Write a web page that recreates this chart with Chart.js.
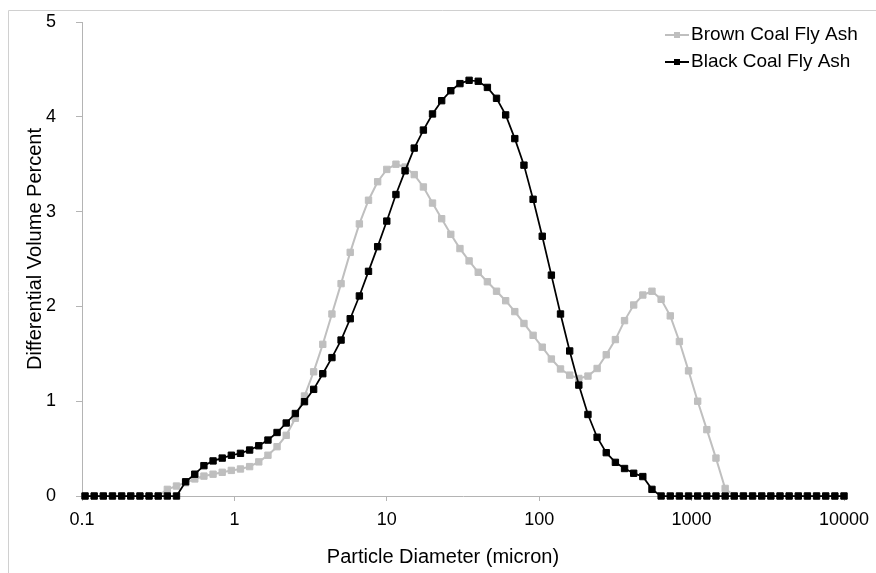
<!DOCTYPE html>
<html>
<head>
<meta charset="utf-8">
<script src="https://cdn.jsdelivr.net/npm/chart.js@4.4.0/dist/chart.umd.min.js"></script>
<style>
  html, body { margin: 0; padding: 0; background: #fff; }
  #wrap { position: relative; width: 876px; height: 573px; }
</style>
</head>
<body>
<div id="wrap"><canvas id="psd" width="876" height="573"></canvas></div>
<script>
// particle size classes (micron)
const diameters = [
  0.1047, 0.1202, 0.1380, 0.1585, 0.1820, 0.2089, 0.2399, 0.2754, 0.3162, 0.3631,
  0.4169, 0.4786, 0.5495, 0.6310, 0.7244, 0.8318, 0.9550, 1.096, 1.259, 1.445,
  1.660, 1.905, 2.188, 2.512, 2.884, 3.311, 3.802, 4.365, 5.012, 5.754,
  6.607, 7.586, 8.710, 10.00, 11.48, 13.18, 15.14, 17.38, 19.95, 22.91,
  26.30, 30.20, 34.67, 39.81, 45.71, 52.48, 60.26, 69.18, 79.43, 91.20,
  104.7, 120.2, 138.0, 158.5, 182.0, 208.9, 239.9, 275.4, 316.2, 363.1,
  416.9, 478.6, 549.5, 631.0, 724.4, 831.8, 955.0, 1096, 1259, 1445,
  1660, 1905, 2188, 2512, 2884, 3311, 3802, 4365, 5012, 5754,
  6607, 7586, 8710, 10000
];

const brownCoal = [
  0, 0, 0, 0, 0, 0, 0, 0, 0, 0.07,
  0.105, 0.14, 0.18, 0.21, 0.23, 0.25, 0.27, 0.285, 0.31, 0.36,
  0.43, 0.52, 0.64, 0.82, 1.055, 1.31, 1.60, 1.92, 2.24, 2.57,
  2.87, 3.12, 3.315, 3.445, 3.50, 3.47, 3.39, 3.26, 3.09, 2.925,
  2.76, 2.61, 2.48, 2.36, 2.26, 2.16, 2.06, 1.945, 1.82, 1.695,
  1.57, 1.445, 1.34, 1.275, 1.24, 1.265, 1.345, 1.49, 1.65, 1.85,
  2.015, 2.12, 2.16, 2.075, 1.90, 1.63, 1.32, 1.00, 0.70, 0.40,
  0.08, 0, 0, 0, 0, 0, 0, 0, 0, 0,
  0, 0, 0, 0
];

const blackCoal = [
  0, 0, 0, 0, 0, 0, 0, 0, 0, 0,
  0, 0.15, 0.23, 0.32, 0.37, 0.40, 0.43, 0.45, 0.485, 0.53,
  0.59, 0.67, 0.77, 0.87, 0.995, 1.125, 1.29, 1.46, 1.645, 1.87,
  2.11, 2.37, 2.63, 2.90, 3.18, 3.43, 3.67, 3.86, 4.03, 4.17,
  4.275, 4.35, 4.385, 4.375, 4.31, 4.195, 4.02, 3.77, 3.49, 3.13,
  2.74, 2.33, 1.92, 1.53, 1.17, 0.86, 0.62, 0.457, 0.355, 0.29,
  0.24, 0.205, 0.07, 0, 0, 0, 0, 0, 0, 0,
  0, 0, 0, 0, 0, 0, 0, 0, 0, 0,
  0, 0, 0, 0
];

const seriesNames = ['Brown Coal Fly Ash', 'Black Coal Fly Ash'];
const xTicks = [0.1, 1, 10, 100, 1000, 10000];
const yTicks = [0, 1, 2, 3, 4, 5];
const xTitle = 'Particle Diameter (micron)';
const yTitle = 'Differential Volume Percent';

const FONT = "'Liberation Sans', Arial, sans-serif";
const AXIS_GRAY = '#b4b4b4';
Chart.defaults.font.family = FONT;
Chart.defaults.color = '#000';

function points(vals) {
  return diameters.map((d, i) => ({ x: d, y: vals[i] }));
}

// light frame round the chart (only top and left edges show in the picture)
const frame = {
  id: 'frame',
  beforeDraw(chart) {
    const ctx = chart.ctx;
    ctx.save();
    ctx.strokeStyle = '#d0d0d0';
    ctx.lineWidth = 1;
    ctx.beginPath();
    ctx.moveTo(8.5, 573);
    ctx.lineTo(8.5, 10.5);
    ctx.lineTo(876, 10.5);
    ctx.stroke();
    ctx.restore();
  }
};

// axis titles: Excel centres them a little off the plot centre
const axisTitles = {
  id: 'axisTitles',
  afterDraw(chart) {
    const ctx = chart.ctx;
    ctx.save();
    ctx.fillStyle = '#000';
    ctx.font = '20px ' + FONT;
    ctx.textAlign = 'center';
    ctx.textBaseline = 'middle';
    ctx.fillText(xTitle, 443, 557);
    ctx.translate(35, 249);
    ctx.rotate(-Math.PI / 2);
    ctx.fillText(yTitle, 0, 0);
    ctx.restore();
  }
};

// legend drawn inside the plot, line + square marker like the original
const lineLegend = {
  id: 'lineLegend',
  afterDraw(chart) {
    const ctx = chart.ctx;
    ctx.save();
    chart.data.datasets.forEach((ds, i) => {
      const y = 35 + i * 27;
      ctx.strokeStyle = ds.borderColor;
      ctx.lineWidth = 2;
      ctx.beginPath();
      ctx.moveTo(665, y);
      ctx.lineTo(689, y);
      ctx.stroke();
      ctx.fillStyle = ds.borderColor;
      ctx.fillRect(674, y - 3, 6, 6);
      ctx.fillStyle = '#000';
      ctx.font = '19px ' + FONT;
      ctx.textBaseline = 'middle';
      ctx.textAlign = 'left';
      ctx.fillText(ds.label, 691, y);
    });
    ctx.restore();
  }
};

new Chart(document.getElementById('psd'), {
  type: 'scatter',
  data: {
    datasets: [
      {
        label: seriesNames[0],
        data: points(brownCoal),
        showLine: true,
        borderColor: '#bfbfbf',
        backgroundColor: '#bfbfbf',
        borderWidth: 2,
        pointStyle: 'rect',
        pointRadius: 4.5,
        pointBorderWidth: 1,
        order: 1,
        clip: false
      },
      {
        label: seriesNames[1],
        data: points(blackCoal),
        showLine: true,
        borderColor: '#000000',
        backgroundColor: '#000000',
        borderWidth: 1.75,
        pointStyle: 'rect',
        pointRadius: 4.5,
        pointBorderWidth: 1,
        order: 0,
        clip: false
      }
    ]
  },
  options: {
    responsive: false,
    animation: false,
    devicePixelRatio: 1,
    layout: { padding: { left: 0, right: 32, top: 22, bottom: 0 } },
    plugins: {
      legend: { display: false },
      tooltip: { enabled: false }
    },
    scales: {
      x: {
        type: 'logarithmic',
        min: 0.1,
        max: 10000,
        afterBuildTicks: s => { s.ticks = xTicks.map(v => ({ value: v })); },
        afterFit: s => { s.height = 77; s.paddingLeft = 0; s.paddingRight = 0; },
        ticks: {
          autoSkip: false,
          maxRotation: 0,
          padding: 8,
          font: { size: 18 },
          callback: v => String(v)
        },
        grid: { drawOnChartArea: false, drawTicks: true, tickLength: 5, color: AXIS_GRAY },
        border: { display: true, color: AXIS_GRAY, width: 1 }
      },
      y: {
        type: 'linear',
        min: 0,
        max: 5,
        afterBuildTicks: s => { s.ticks = yTicks.map(v => ({ value: v })); },
        afterFit: s => { s.width = 82; s.paddingTop = 0; s.paddingBottom = 0; },
        ticks: { padding: 20, font: { size: 18 } },
        grid: { drawOnChartArea: false, drawTicks: true, tickLength: 6, color: AXIS_GRAY },
        border: { display: true, color: AXIS_GRAY, width: 1 }
      }
    }
  },
  plugins: [frame, axisTitles, lineLegend]
});
</script>
</body>
</html>
